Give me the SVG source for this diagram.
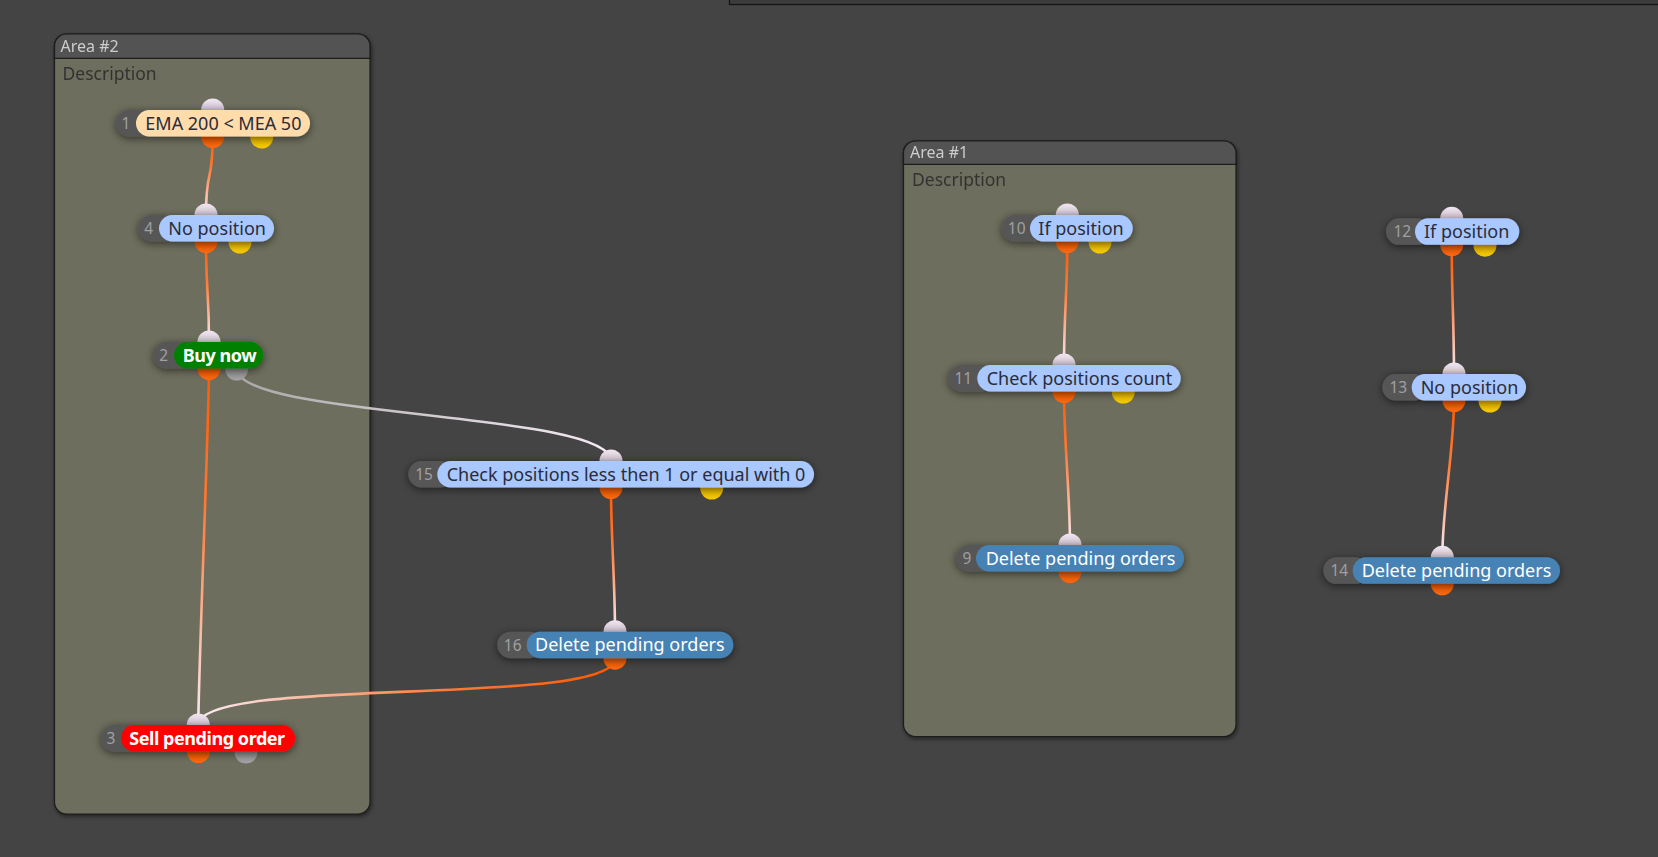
<svg xmlns="http://www.w3.org/2000/svg" width="1658" height="857" viewBox="0 0 1658 857">
<style>
.num{font-family:"Noto Sans","Open Sans",sans-serif;font-size:15.5px;fill:#a0a0a0;text-anchor:middle}
.lbl{font-family:"Noto Sans","Open Sans",sans-serif;font-size:18px;fill:#2a2c3a}
.lblw{font-family:"Noto Sans","Open Sans",sans-serif;font-size:18px;fill:#ffffff}
.lblb{font-family:"Noto Sans","Open Sans",sans-serif;font-size:18px;font-weight:bold;fill:#ffffff;letter-spacing:-0.45px}
.dark{fill:#575757}
.cond{fill:#a9c8ff}
.peach{fill:#ffdcaa}
.green{fill:#008000}
.red{fill:#ff0000}
.blue{fill:#4682b4}
.pin{fill:url(#gIn)}
.pout{fill:url(#gOut)}
.pyel{fill:url(#gYel)}
.pgry{fill:url(#gGry)}
.conn{fill:none;stroke-width:2.6}
.area{fill:#6d6e5d;stroke:#1c1c1c;stroke-width:1.2}
.ahead{fill:#525252;stroke:#1c1c1c;stroke-width:1.2}
.atitle{font-family:"Noto Sans","Open Sans",sans-serif;font-size:16px;fill:#cdcdcd}
.adesc{font-family:"Noto Sans","Open Sans",sans-serif;font-size:17.5px;fill:#333333}
</style>
<defs>
<linearGradient id="gIn" x1="0" y1="0" x2="0" y2="1"><stop offset="0" stop-color="#f0e6f0"/><stop offset="0.6" stop-color="#cbbccb"/><stop offset="1" stop-color="#9a8c9a"/></linearGradient>
<linearGradient id="gOut" x1="0" y1="0" x2="0" y2="1"><stop offset="0" stop-color="#c84800"/><stop offset="0.5" stop-color="#f05a00"/><stop offset="1" stop-color="#ff6a10"/></linearGradient>
<linearGradient id="gYel" x1="0" y1="0" x2="0" y2="1"><stop offset="0" stop-color="#b89000"/><stop offset="0.5" stop-color="#e8b800"/><stop offset="1" stop-color="#f8cc00"/></linearGradient>
<linearGradient id="gGry" x1="0" y1="0" x2="0" y2="1"><stop offset="0" stop-color="#6c6c6c"/><stop offset="0.5" stop-color="#909090"/><stop offset="1" stop-color="#a4a4a4"/></linearGradient>
<filter id="sh" x="-20%" y="-80%" width="140%" height="260%"><feDropShadow dx="0" dy="2" stdDeviation="4" flood-color="#000" flood-opacity="0.55"/></filter>
<filter id="ash" x="-5%" y="-5%" width="110%" height="110%"><feDropShadow dx="1" dy="2" stdDeviation="2" flood-color="#000" flood-opacity="0.5"/></filter>
<linearGradient id="c1" gradientUnits="userSpaceOnUse" x1="212.7" y1="137" x2="206" y2="215"><stop offset="0" stop-color="#ff5a00"/><stop offset="0.4" stop-color="#ff7a36"/><stop offset="1" stop-color="#f8ecf6"/></linearGradient>
<linearGradient id="c2" gradientUnits="userSpaceOnUse" x1="206" y1="242" x2="209" y2="342"><stop offset="0" stop-color="#ff5a00"/><stop offset="0.4" stop-color="#ff7a36"/><stop offset="1" stop-color="#f8ecf6"/></linearGradient>
<linearGradient id="c3" gradientUnits="userSpaceOnUse" x1="209" y1="368" x2="198" y2="725"><stop offset="0" stop-color="#ff5a00"/><stop offset="0.4" stop-color="#ff7a36"/><stop offset="1" stop-color="#f8ecf6"/></linearGradient>
<linearGradient id="c4" gradientUnits="userSpaceOnUse" x1="237" y1="368" x2="611" y2="461"><stop offset="0" stop-color="#a8a8a8"/><stop offset="1" stop-color="#f8ecf6"/></linearGradient>
<linearGradient id="c5" gradientUnits="userSpaceOnUse" x1="611" y1="488" x2="615" y2="632"><stop offset="0" stop-color="#ff5a00"/><stop offset="0.4" stop-color="#ff7a36"/><stop offset="1" stop-color="#f8ecf6"/></linearGradient>
<linearGradient id="c6" gradientUnits="userSpaceOnUse" x1="615" y1="658" x2="198" y2="725"><stop offset="0" stop-color="#ff5a00"/><stop offset="0.4" stop-color="#ff7a36"/><stop offset="1" stop-color="#f8ecf6"/></linearGradient>
<linearGradient id="c7" gradientUnits="userSpaceOnUse" x1="1067" y1="242" x2="1064" y2="365"><stop offset="0" stop-color="#ff5a00"/><stop offset="0.4" stop-color="#ff7a36"/><stop offset="1" stop-color="#f8ecf6"/></linearGradient>
<linearGradient id="c8" gradientUnits="userSpaceOnUse" x1="1064" y1="392" x2="1070" y2="545"><stop offset="0" stop-color="#ff5a00"/><stop offset="0.4" stop-color="#ff7a36"/><stop offset="1" stop-color="#f8ecf6"/></linearGradient>
<linearGradient id="c9" gradientUnits="userSpaceOnUse" x1="1452" y1="245" x2="1454" y2="374"><stop offset="0" stop-color="#ff5a00"/><stop offset="0.4" stop-color="#ff7a36"/><stop offset="1" stop-color="#f8ecf6"/></linearGradient>
<linearGradient id="c10" gradientUnits="userSpaceOnUse" x1="1454" y1="401" x2="1442" y2="557"><stop offset="0" stop-color="#ff5a00"/><stop offset="0.4" stop-color="#ff7a36"/><stop offset="1" stop-color="#f8ecf6"/></linearGradient>
</defs>
<rect x="0" y="0" width="1658" height="857" fill="#444444"/>
<rect x="729.5" y="-3" width="940" height="7.5" fill="#3c3c3c" stroke="#141414" stroke-width="1.3"/>

<g id="area2" filter="url(#ash)">
<path class="area" d="M54.5,46 a12,12 0 0 1 12,-12 h291.5 a12,12 0 0 1 12,12 V802 a12,12 0 0 1 -12,12 H66.5 a12,12 0 0 1 -12,-12 Z"/>
<path class="ahead" d="M54.5,58.3 V46 a12,12 0 0 1 12,-12 h291.5 a12,12 0 0 1 12,12 V58.3 Z"/>
<text class="atitle" x="60.5" y="51.5">Area #2</text>
<text class="adesc" x="62.5" y="80">Description</text>
</g>
<g id="area1" filter="url(#ash)">
<path class="area" d="M903.5,153 a12,12 0 0 1 12,-12 h308.5 a12,12 0 0 1 12,12 V724.5 a12,12 0 0 1 -12,12 H915.5 a12,12 0 0 1 -12,-12 Z"/>
<path class="ahead" d="M903.5,164.3 V153 a12,12 0 0 1 12,-12 h308.5 a12,12 0 0 1 12,12 V164.3 Z"/>
<text class="atitle" x="910" y="158">Area #1</text>
<text class="adesc" x="912" y="186">Description</text>
</g>

<g id="connectors">
<path class="conn" stroke="url(#c1)" d="M212.7,136.5 C212.7,186.5 206,165 206,215"/>
<path class="conn" stroke="url(#c2)" d="M206,241.5 C206,291.5 209,292 209,342"/>
<path class="conn" stroke="url(#c3)" d="M209,368.5 C209,418.5 198.3,675 198.3,725"/>
<path class="conn" stroke="url(#c4)" d="M236.7,368.5 C236.7,418.5 611,411 611,461"/>
<path class="conn" stroke="url(#c5)" d="M611,487.5 C611,537.5 615,581.7 615,631.7"/>
<path class="conn" stroke="url(#c6)" d="M615,658.2 C615,708.2 198.3,675 198.3,725"/>
<path class="conn" stroke="url(#c7)" d="M1067.3,241.5 C1067.3,291.5 1064,315 1064,365"/>
<path class="conn" stroke="url(#c8)" d="M1064,391.5 C1064,441.5 1070,495 1070,545"/>
<path class="conn" stroke="url(#c9)" d="M1451.7,244.8 C1451.7,294.8 1454,324 1454,374"/>
<path class="conn" stroke="url(#c10)" d="M1454,400.5 C1454,450.5 1442.3,507.3 1442.3,557.3"/>
</g>

<g id="node1">
<circle class="pin" cx="212.7" cy="110" r="11.5"/>
<circle class="pout" cx="212.7" cy="136.5" r="11.5"/>
<circle class="pyel" cx="261.7" cy="137" r="11.5"/>
<g filter="url(#sh)"><rect class="dark" x="116" y="110" width="40" height="26.5" rx="13.25"/><rect class="peach" x="136" y="110" width="174" height="26.5" rx="13.25"/></g>
<text class="num" x="126" y="129">1</text>
<text class="lbl" x="145.3" y="129.5">EMA 200 &lt; MEA 50</text>
</g>
<g id="node4">
<circle class="pin" cx="206" cy="215" r="11.5"/>
<circle class="pout" cx="206" cy="241.5" r="11.5"/>
<circle class="pyel" cx="240" cy="242" r="11.5"/>
<g filter="url(#sh)"><rect class="dark" x="138.3" y="215" width="40" height="26.5" rx="13.25"/><rect class="cond" x="159" y="215" width="115" height="26.5" rx="13.25"/></g>
<text class="num" x="148.7" y="234">4</text>
<text class="lbl" x="168.3" y="234.5">No position</text>
</g>
<g id="node2">
<circle class="pin" cx="209" cy="342" r="11.5"/>
<circle class="pout" cx="209" cy="368.5" r="11.5"/>
<circle class="pgry" cx="236.7" cy="369" r="11.5"/>
<g filter="url(#sh)"><rect class="dark" x="153.3" y="342" width="40" height="26.5" rx="13.25"/><rect class="green" x="174" y="342" width="89.3" height="26.5" rx="13.25"/></g>
<text class="num" x="163.7" y="361">2</text>
<text class="lblb" x="182.7" y="361.5">Buy now</text>
</g>
<g id="node3">
<circle class="pin" cx="198.3" cy="725" r="11.5"/>
<circle class="pout" cx="198.3" cy="751.5" r="11.5"/>
<circle class="pgry" cx="246" cy="752" r="11.5"/>
<g filter="url(#sh)"><rect class="dark" x="101" y="725" width="40" height="26.5" rx="13.25"/><rect class="red" x="121" y="725" width="174" height="26.5" rx="13.25"/></g>
<text class="num" x="111" y="744">3</text>
<text class="lblb" x="129.3" y="744.5">Sell pending order</text>
</g>
<g id="node15">
<circle class="pin" cx="611" cy="461" r="11.5"/>
<circle class="pout" cx="611" cy="487.5" r="11.5"/>
<circle class="pyel" cx="711.7" cy="488" r="11.5"/>
<g filter="url(#sh)"><rect class="dark" x="408.3" y="461" width="45" height="26.5" rx="13.25"/><rect class="cond" x="437.3" y="461" width="376.7" height="26.5" rx="13.25"/></g>
<text class="num" x="424" y="480">15</text>
<text class="lbl" x="446.7" y="480.5">Check positions less then 1 or equal with 0</text>
</g>
<g id="node16">
<circle class="pin" cx="615" cy="631.7" r="11.5"/>
<circle class="pout" cx="615" cy="658.2" r="11.5"/>
<g filter="url(#sh)"><rect class="dark" x="497.3" y="631.7" width="45" height="26.5" rx="13.25"/><rect class="blue" x="526.7" y="631.7" width="206.6" height="26.5" rx="13.25"/></g>
<text class="num" x="512.7" y="650.7">16</text>
<text class="lblw" x="535" y="651.2">Delete pending orders</text>
</g>
<g id="node10">
<circle class="pin" cx="1067.3" cy="215" r="11.5"/>
<circle class="pout" cx="1067.3" cy="241.5" r="11.5"/>
<circle class="pyel" cx="1100" cy="242" r="11.5"/>
<g filter="url(#sh)"><rect class="dark" x="1001.7" y="215" width="45" height="26.5" rx="13.25"/><rect class="cond" x="1030" y="215" width="102.7" height="26.5" rx="13.25"/></g>
<text class="num" x="1016.7" y="234">10</text>
<text class="lbl" x="1038.3" y="234.5">If position</text>
</g>
<g id="node11">
<circle class="pin" cx="1064" cy="365" r="11.5"/>
<circle class="pout" cx="1064" cy="391.5" r="11.5"/>
<circle class="pyel" cx="1123.3" cy="392" r="11.5"/>
<g filter="url(#sh)"><rect class="dark" x="948.3" y="365" width="45" height="26.5" rx="13.25"/><rect class="cond" x="977.3" y="365" width="203.4" height="26.5" rx="13.25"/></g>
<text class="num" x="963.3" y="384">11</text>
<text class="lbl" x="986.7" y="384.5">Check positions count</text>
</g>
<g id="node9">
<circle class="pin" cx="1070" cy="545" r="11.5"/>
<circle class="pout" cx="1070" cy="571.5" r="11.5"/>
<g filter="url(#sh)"><rect class="dark" x="956" y="545" width="40" height="26.5" rx="13.25"/><rect class="blue" x="976" y="545" width="208" height="26.5" rx="13.25"/></g>
<text class="num" x="967" y="564">9</text>
<text class="lblw" x="985.7" y="564.5">Delete pending orders</text>
</g>
<g id="node12">
<circle class="pin" cx="1451.7" cy="218.3" r="11.5"/>
<circle class="pout" cx="1451.7" cy="244.8" r="11.5"/>
<circle class="pyel" cx="1485" cy="245.3" r="11.5"/>
<g filter="url(#sh)"><rect class="dark" x="1386" y="218.3" width="45" height="26.5" rx="13.25"/><rect class="cond" x="1415" y="218.3" width="104.3" height="26.5" rx="13.25"/></g>
<text class="num" x="1402.3" y="237.3">12</text>
<text class="lbl" x="1424" y="237.8">If position</text>
</g>
<g id="node13">
<circle class="pin" cx="1454" cy="374" r="11.5"/>
<circle class="pout" cx="1454" cy="400.5" r="11.5"/>
<circle class="pyel" cx="1490" cy="401" r="11.5"/>
<g filter="url(#sh)"><rect class="dark" x="1382.3" y="374" width="45" height="26.5" rx="13.25"/><rect class="cond" x="1411.7" y="374" width="114.3" height="26.5" rx="13.25"/></g>
<text class="num" x="1398.3" y="393">13</text>
<text class="lbl" x="1420.7" y="393.5">No position</text>
</g>
<g id="node14">
<circle class="pin" cx="1442.3" cy="557.3" r="11.5"/>
<circle class="pout" cx="1442.3" cy="583.8" r="11.5"/>
<g filter="url(#sh)"><rect class="dark" x="1323.3" y="557.3" width="45" height="26.5" rx="13.25"/><rect class="blue" x="1352.7" y="557.3" width="207.3" height="26.5" rx="13.25"/></g>
<text class="num" x="1339.3" y="576.3">14</text>
<text class="lblw" x="1361.7" y="576.8">Delete pending orders</text>
</g>
</svg>
